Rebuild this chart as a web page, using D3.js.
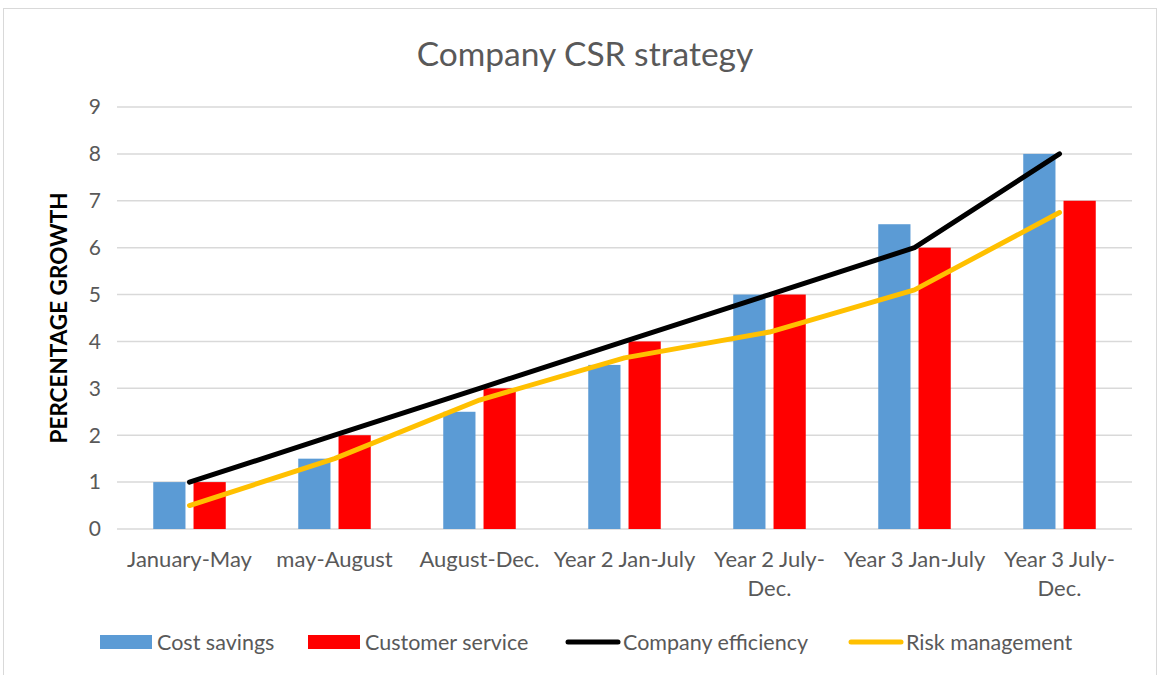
<!DOCTYPE html>
<html>
<head>
<meta charset="utf-8">
<script src="https://cdn.jsdelivr.net/npm/d3@7"></script>
<style>
  body { margin: 0; background: #fff; }
  svg text { font-family: Lato, "Open Sans", sans-serif; }
</style>
</head>
<body>
<div id="chart"></div>
<script>
const categories = [
  ["January-May"],
  ["may-August"],
  ["August-Dec."],
  ["Year 2 Jan-July"],
  ["Year 2 July-", "Dec."],
  ["Year 3 Jan-July"],
  ["Year 3 July-", "Dec."]
];
const costSavings = [1, 1.5, 2.5, 3.5, 5, 6.5, 8];
const customerService = [1, 2, 3, 4, 5, 6, 7];
const companyEfficiency = [1, 2, 3, 4, 5, 6, 8];
const riskManagement = [0.5, 1.5, 2.75, 3.65, 4.2, 5.1, 6.75];
const yTicks = [0, 1, 2, 3, 4, 5, 6, 7, 8, 9];

const width = 1160, height = 675;
const plotLeft = 117, plotRight = 1132, plotTop = 107, plotBottom = 529;

const svg = d3.select("#chart").append("svg")
  .attr("width", width)
  .attr("height", height);

// chart border
svg.append("rect")
  .attr("x", 3.5).attr("y", 8.5)
  .attr("width", 1153).attr("height", 680)
  .attr("fill", "#fff")
  .attr("stroke", "#d9d9d9");

svg.append("text")
  .attr("x", 585).attr("y", 66)
  .attr("text-anchor", "middle")
  .attr("font-size", 33.5)
  .attr("fill", "#595959")
  .text("Company CSR strategy");

const idx = categories.map((d, i) => i);
const x = d3.scaleBand().domain(idx).range([plotLeft, plotRight]);
const bw = x.bandwidth();
const xs = d3.scaleBand().domain(["cost", "cust"])
  .range([bw * 0.25, bw * 0.75]).paddingInner(0.2);
const y = d3.scaleLinear().domain([0, 9]).range([plotBottom, plotTop]);

// gridlines
svg.append("g")
  .selectAll("line")
  .data(yTicks)
  .join("line")
  .attr("x1", plotLeft).attr("x2", plotRight)
  .attr("y1", d => y(d)).attr("y2", d => y(d))
  .attr("stroke", "#d9d9d9")
  .attr("stroke-width", 1.5);

svg.append("g")
  .selectAll("text")
  .data(yTicks)
  .join("text")
  .attr("x", 101)
  .attr("y", d => y(d))
  .attr("dy", "0.35em")
  .attr("text-anchor", "end")
  .attr("font-size", 21)
  .attr("fill", "#595959")
  .text(d => d);

svg.append("text")
  .attr("transform", `translate(67,${(plotTop + plotBottom) / 2}) rotate(-90)`)
  .attr("text-anchor", "middle")
  .attr("font-size", 22.5)
  .attr("font-weight", "bold")
  .attr("fill", "#000")
  .text("PERCENTAGE GROWTH");

// x labels
const xl = svg.append("g")
  .selectAll("text")
  .data(categories)
  .join("text")
  .attr("x", (d, i) => x(i) + bw / 2)
  .attr("y", 567)
  .attr("text-anchor", "middle")
  .attr("font-size", 22)
  .attr("fill", "#595959");
xl.selectAll("tspan")
  .data(d => d)
  .join("tspan")
  .attr("x", function() { return this.parentNode.getAttribute("x"); })
  .attr("dy", (d, j) => j === 0 ? 0 : 29)
  .text(d => d);

// bars
svg.append("g")
  .selectAll("rect")
  .data(costSavings)
  .join("rect")
  .attr("x", (d, i) => x(i) + xs("cost"))
  .attr("width", xs.bandwidth())
  .attr("y", d => y(d))
  .attr("height", d => y(0) - y(d))
  .attr("fill", "#5b9bd5");

svg.append("g")
  .selectAll("rect")
  .data(customerService)
  .join("rect")
  .attr("x", (d, i) => x(i) + xs("cust"))
  .attr("width", xs.bandwidth())
  .attr("y", d => y(d))
  .attr("height", d => y(0) - y(d))
  .attr("fill", "#ff0000");

// lines
const line = d3.line()
  .x((d, i) => x(i) + bw / 2)
  .y(d => y(d));

svg.append("path")
  .datum(companyEfficiency)
  .attr("d", line)
  .attr("fill", "none")
  .attr("stroke", "#000")
  .attr("stroke-width", 5)
  .attr("stroke-linecap", "round")
  .attr("stroke-linejoin", "round");

svg.append("path")
  .datum(riskManagement)
  .attr("d", line)
  .attr("fill", "none")
  .attr("stroke", "#ffc000")
  .attr("stroke-width", 5)
  .attr("stroke-linecap", "round")
  .attr("stroke-linejoin", "round");

// legend
const legend = [
  { name: "Cost savings", color: "#5b9bd5", type: "bar", x: 100 },
  { name: "Customer service", color: "#ff0000", type: "bar", x: 308 },
  { name: "Company efficiency", color: "#000", type: "line", x: 566 },
  { name: "Risk management", color: "#ffc000", type: "line", x: 849 }
];
const lg = svg.append("g")
  .selectAll("g")
  .data(legend)
  .join("g")
  .attr("transform", d => `translate(${d.x},642)`);

lg.filter(d => d.type === "bar")
  .append("rect")
  .attr("x", 0).attr("y", -7)
  .attr("width", 52).attr("height", 14)
  .attr("fill", d => d.color);

lg.filter(d => d.type === "line")
  .append("line")
  .attr("x1", 2).attr("x2", 52)
  .attr("stroke", d => d.color)
  .attr("stroke-width", 5)
  .attr("stroke-linecap", "round");

lg.append("text")
  .attr("x", 57)
  .attr("dy", "0.35em")
  .attr("font-size", 21.5)
  .attr("fill", "#595959")
  .text(d => d.name);
</script>
</body>
</html>
